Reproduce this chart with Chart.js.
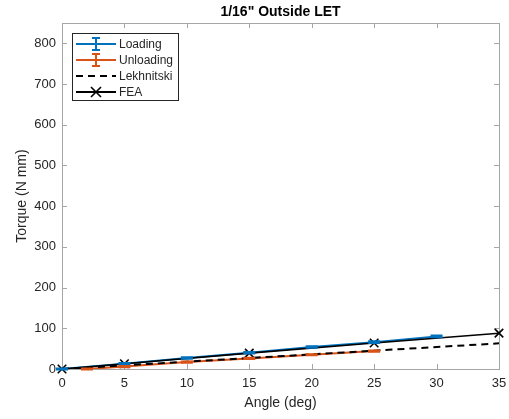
<!DOCTYPE html>
<html>
<head>
<meta charset="utf-8">
<script src="https://cdn.jsdelivr.net/npm/chart.js@4.4.0/dist/chart.umd.min.js"></script>
<style>
  html, body { margin: 0; padding: 0; background: #fff; }
  #wrap { width: 509px; height: 419px; }
</style>
</head>
<body>
<div id="wrap"><canvas id="torqueChart" width="509" height="419"></canvas></div>
<script>
// Torque vs twist angle, 1/16" outside LET
const chartTitle = '1/16" Outside LET';
const xTicks = [0, 5, 10, 15, 20, 25, 30, 35];
const yTicks = [0, 100, 200, 300, 400, 500, 600, 700, 800];

const loadAngle = [0, 5, 10, 15, 20, 25, 30];
const loadTorque = [0, 13, 27, 40, 54, 66, 80];
const loadErr = [1, 1.5, 2, 2, 2, 2, 2];

const unloadAngle = [2, 5, 10, 15, 20, 25];
const unloadTorque = [0, 6, 17, 26, 35, 44];
const unloadErr = [1, 1.5, 1.5, 1.5, 1.5, 1.5];

const lekAngle = [0, 35];
const lekTorque = [0, 63];

const feaAngle = [0, 5, 15, 25, 35];
const feaTorque = [0, 13, 39, 64, 88];

const BLUE = "#0072BD";
const ORANGE = "#D95319";
const AXIS = "#a6a6a6";
const TEXT = "#262626";
const FONT = "'Liberation Sans', Arial, sans-serif";

const pts = (xs, ys) => xs.map((x, i) => ({ x: x, y: ys[i] }));

// error bars with caps for datasets carrying an "errors" array
const errorBars = {
  id: "errorBars",
  afterDatasetsDraw(chart) {
    const { ctx, scales: { x, y } } = chart;
    chart.data.datasets.forEach(ds => {
      if (!ds.errors) return;
      ctx.save();
      ctx.strokeStyle = ds.borderColor;
      ctx.lineWidth = 2;
      ds.data.forEach((p, i) => {
        const px = x.getPixelForValue(p.x);
        const top = y.getPixelForValue(p.y + ds.errors[i]);
        const bot = y.getPixelForValue(p.y - ds.errors[i]);
        ctx.beginPath();
        ctx.moveTo(px, top); ctx.lineTo(px, bot);
        ctx.moveTo(px - 6, top); ctx.lineTo(px + 6, top);
        ctx.moveTo(px - 6, bot); ctx.lineTo(px + 6, bot);
        ctx.stroke();
      });
      ctx.restore();
    });
  }
};

// axes box with inward ticks on all four sides, title centred over the plot
const axesBox = {
  id: "axesBox",
  beforeDatasetsDraw(chart) {
    const { ctx, chartArea: a, scales: { x, y } } = chart;
    ctx.save();
    ctx.strokeStyle = AXIS;
    ctx.lineWidth = 1;
    ctx.strokeRect(a.left + 0.5, a.top + 0.5, a.right - a.left, a.bottom - a.top);
    ctx.beginPath();
    xTicks.forEach(v => {
      const px = Math.round(x.getPixelForValue(v)) + 0.5;
      ctx.moveTo(px, a.bottom); ctx.lineTo(px, a.bottom - 5);
      ctx.moveTo(px, a.top); ctx.lineTo(px, a.top + 5);
    });
    yTicks.forEach(v => {
      const py = Math.round(y.getPixelForValue(v)) + 0.5;
      ctx.moveTo(a.left, py); ctx.lineTo(a.left + 5, py);
      ctx.moveTo(a.right, py); ctx.lineTo(a.right - 5, py);
    });
    ctx.stroke();

    ctx.fillStyle = "#000";
    ctx.font = "bold 14px " + FONT;
    ctx.textAlign = "center";
    ctx.textBaseline = "middle";
    ctx.fillText(chartTitle, (a.left + a.right) / 2, 12);
    ctx.restore();
  }
};

// legend box in the upper left corner
const legendBox = {
  id: "legendBox",
  afterDraw(chart) {
    const { ctx } = chart;
    const bx = 72, by = 33, bw = 106, bh = 67;
    ctx.save();
    ctx.fillStyle = "#fff";
    ctx.fillRect(bx, by, bw, bh);
    ctx.strokeStyle = "#262626";
    ctx.lineWidth = 1;
    ctx.strokeRect(bx + 0.5, by + 0.5, bw, bh);
    const x0 = 76, x1 = 116, xm = 96;
    const rows = [44, 60, 76, 92];
    chart.data.datasets.forEach((ds, i) => {
      const ry = rows[i];
      ctx.strokeStyle = ds.borderColor;
      ctx.lineWidth = 2;
      ctx.setLineDash(ds.borderDash || []);
      ctx.beginPath();
      ctx.moveTo(x0, ry); ctx.lineTo(x1, ry);
      ctx.stroke();
      ctx.setLineDash([]);
      if (ds.errors) {
        ctx.beginPath();
        ctx.moveTo(xm, ry - 6); ctx.lineTo(xm, ry + 6);
        ctx.moveTo(xm - 4, ry - 6); ctx.lineTo(xm + 4, ry - 6);
        ctx.moveTo(xm - 4, ry + 6); ctx.lineTo(xm + 4, ry + 6);
        ctx.stroke();
      }
      if (ds.pointStyle === "crossRot") {
        ctx.lineWidth = 1.6;
        ctx.beginPath();
        ctx.moveTo(xm - 5, ry - 5); ctx.lineTo(xm + 5, ry + 5);
        ctx.moveTo(xm - 5, ry + 5); ctx.lineTo(xm + 5, ry - 5);
        ctx.stroke();
      }
      ctx.fillStyle = TEXT;
      ctx.font = "12px " + FONT;
      ctx.textBaseline = "middle";
      ctx.fillText(ds.label, 119, ry + 0.5);
    });
    ctx.restore();
  }
};

new Chart(document.getElementById("torqueChart"), {
  type: "scatter",
  data: {
    datasets: [
      { label: "Loading", data: pts(loadAngle, loadTorque), errors: loadErr,
        showLine: true, borderColor: BLUE, borderWidth: 2, pointRadius: 0, order: 3 },
      { label: "Unloading", data: pts(unloadAngle, unloadTorque), errors: unloadErr,
        showLine: true, borderColor: ORANGE, borderWidth: 2, pointRadius: 0, order: 2 },
      { label: "Lekhnitski", data: pts(lekAngle, lekTorque),
        showLine: true, borderColor: "#000", borderWidth: 2, borderDash: [7, 5], pointRadius: 0, order: 1 },
      { label: "FEA", data: pts(feaAngle, feaTorque),
        showLine: true, borderColor: "#000", borderWidth: 1.6, pointStyle: "crossRot", clip: false,
        pointRadius: 6, pointBorderWidth: 1.6, pointBorderColor: "#000", order: 0 }
    ]
  },
  options: {
    responsive: false,
    animation: false,
    layout: { padding: { top: 23, right: 10, left: 0, bottom: 0 } },
    plugins: {
      legend: { display: false },
      tooltip: { enabled: false },
      title: { display: false }
    },
    scales: {
      x: {
        type: "linear", min: 0, max: 35,
        afterBuildTicks: s => { s.ticks = xTicks.map(v => ({ value: v })); },
        afterFit: s => { s.height = 50; s.paddingLeft = 0; s.paddingRight = 0; },
        grid: { display: false, drawTicks: false }, border: { display: false },
        ticks: { color: TEXT, font: { family: FONT, size: 13 }, padding: 7, maxRotation: 0 },
        title: { display: true, text: "Angle (deg)", color: TEXT, font: { family: FONT, size: 14 }, padding: { top: 0, bottom: 7 } }
      },
      y: {
        type: "linear", min: 0, max: 850,
        afterBuildTicks: s => { s.ticks = yTicks.map(v => ({ value: v })); },
        afterFit: s => { s.width = 62; s.paddingTop = 0; s.paddingBottom = 0; },
        grid: { display: false, drawTicks: false }, border: { display: false },
        ticks: { color: TEXT, font: { family: FONT, size: 13 }, padding: 6 },
        title: { display: true, text: "Torque (N mm)", color: TEXT, font: { family: FONT, size: 14 }, padding: { top: 14, bottom: 0 } }
      }
    }
  },
  plugins: [errorBars, axesBox, legendBox]
});
</script>
</body>
</html>
